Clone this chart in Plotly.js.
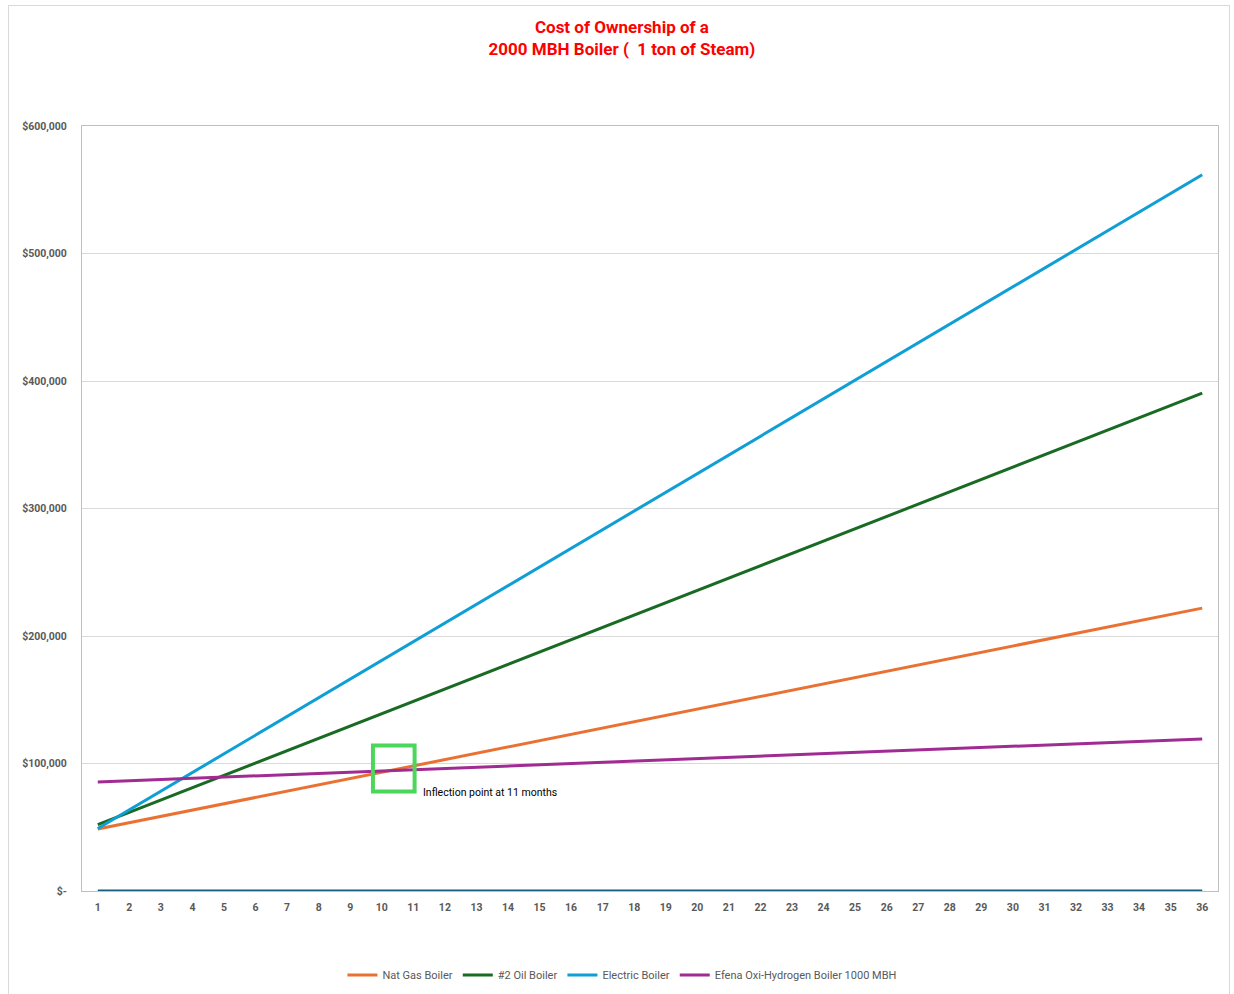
<!DOCTYPE html>
<html>
<head>
<meta charset="utf-8">
<script src="https://cdn.plot.ly/plotly-3.0.1.min.js"></script>
<style>
  html, body { margin: 0; padding: 0; background: #fff; }
  #wrap { position: relative; width: 1234px; height: 994px; overflow: hidden; }
  #frame { position: absolute; left: 8px; top: 5px; width: 1220px; height: 1000px; border: 1px solid #d9d9d9; pointer-events: none; }
  #chart { position: absolute; left: 0; top: 0; width: 1234px; height: 994px; }
</style>
</head>
<body>
<div id="wrap">
  <div id="chart"></div>
  <div id="frame"></div>
</div>
<script>
const months = [1,2,3,4,5,6,7,8,9,10,11,12,13,14,15,16,17,18,19,20,21,22,23,24,25,26,27,28,29,30,31,32,33,34,35,36];

const baseline = [0,0,0,0,0,0,0,0,0,0,0,0,0,0,0,0,0,0,0,0,0,0,0,0,0,0,0,0,0,0,0,0,0,0,0,0];

const natGas = [48600,53550,58500,63450,68400,73350,78300,83250,88200,93150,98100,103050,108000,112950,117900,122850,127800,132750,137700,142650,147600,152550,157500,162450,167400,172350,177300,182250,187200,192150,197100,202050,207000,211950,216900,221850];

const oil = [52000,61670,71340,81010,90680,100350,110020,119690,129360,139030,148700,158370,168040,177710,187380,197050,206720,216390,226060,235730,245400,255070,264740,274410,284080,293750,303420,313090,322760,332430,342100,351770,361440,371110,380780,390450];

const electric = [49000,63650,78300,92950,107600,122250,136900,151550,166200,180850,195500,210150,224800,239450,254100,268750,283400,298050,312700,327350,342000,356650,371300,385950,400600,415250,429900,444550,459200,473850,488500,503150,517800,532450,547100,561750];

const efena = [85500,86465,87430,88395,89360,90325,91290,92255,93220,94185,95150,96115,97080,98045,99010,99975,100940,101905,102870,103835,104800,105765,106730,107695,108660,109625,110590,111555,112520,113485,114450,115415,116380,117345,118310,119275];

const yTickVals = [0,100000,200000,300000,400000,500000,600000];
const yTickText = ["$-","$100,000","$200,000","$300,000","$400,000","$500,000","$600,000"];

const font = "Roboto, 'Liberation Sans', sans-serif";

function line(name, y, color, showlegend) {
  return { x: months, y: y, name: name, type: 'scatter', mode: 'lines',
           line: { color: color, width: 3 }, showlegend: showlegend };
}

const data = [
  line('Series0', baseline, '#156082', false),
  line('Nat Gas Boiler', natGas, '#E97132', true),
  line('#2 Oil Boiler', oil, '#196B24', true),
  line('Electric Boiler', electric, '#0F9ED5', true),
  line('Efena Oxi-Hydrogen Boiler 1000 MBH', efena, '#A02B93', true)
];

const layout = {
  width: 1234, height: 994,
  margin: { l: 82, r: 16, t: 126, b: 103 },
  paper_bgcolor: '#ffffff', plot_bgcolor: '#ffffff',
  font: { family: font, color: '#595959' },
  title: {
    text: '<b>Cost of Ownership of a<br>2000 MBH Boiler (  1 ton of Steam)</b>',
    font: { family: font, size: 17, color: '#ff0000' },
    x: 0.504, xref: 'container', xanchor: 'center',
    y: 0.9665, yref: 'container', yanchor: 'middle'
  },
  xaxis: {
    range: [0.5, 36.5], tickvals: months, ticktext: months.map(String),
    showgrid: false, zeroline: false,
    showline: true, mirror: true, linecolor: '#bfbfbf', linewidth: 1,
    ticks: '', ticklabelstandoff: 6,
    tickfont: { family: font, size: 10.5, color: '#595959', weight: 'bold' }
  },
  yaxis: {
    range: [0, 600000], tickvals: yTickVals, ticktext: yTickText,
    showgrid: true, gridcolor: '#d9d9d9', gridwidth: 1, zeroline: false,
    showline: true, mirror: true, linecolor: '#bfbfbf', linewidth: 1,
    ticks: '', ticklabelstandoff: 12,
    tickfont: { family: font, size: 10.5, color: '#595959', weight: 'bold' }
  },
  legend: {
    orientation: 'h', xref: 'container', yref: 'container',
    x: 0.504, xanchor: 'center', y: 0.019, yanchor: 'middle',
    font: { family: font, size: 11, color: '#595959' },
    itemwidth: 30, tracegroupgap: 0
  },
  shapes: [{
    type: 'rect', xref: 'x', yref: 'y',
    x0: 9.72, x1: 11.04, y0: 78000, y1: 114200,
    line: { color: '#4dd65c', width: 4 }, fillcolor: 'rgba(0,0,0,0)'
  }],
  annotations: [{
    xref: 'x', yref: 'y', x: 11.25, y: 77000, xanchor: 'left', yanchor: 'middle',
    text: 'Inflection point at 11 months', showarrow: false,
    font: { family: font, size: 10.5, color: '#000000' }
  }]
};

Plotly.newPlot('chart', data, layout, { displayModeBar: false, staticPlot: true });
</script>
</body>
</html>
